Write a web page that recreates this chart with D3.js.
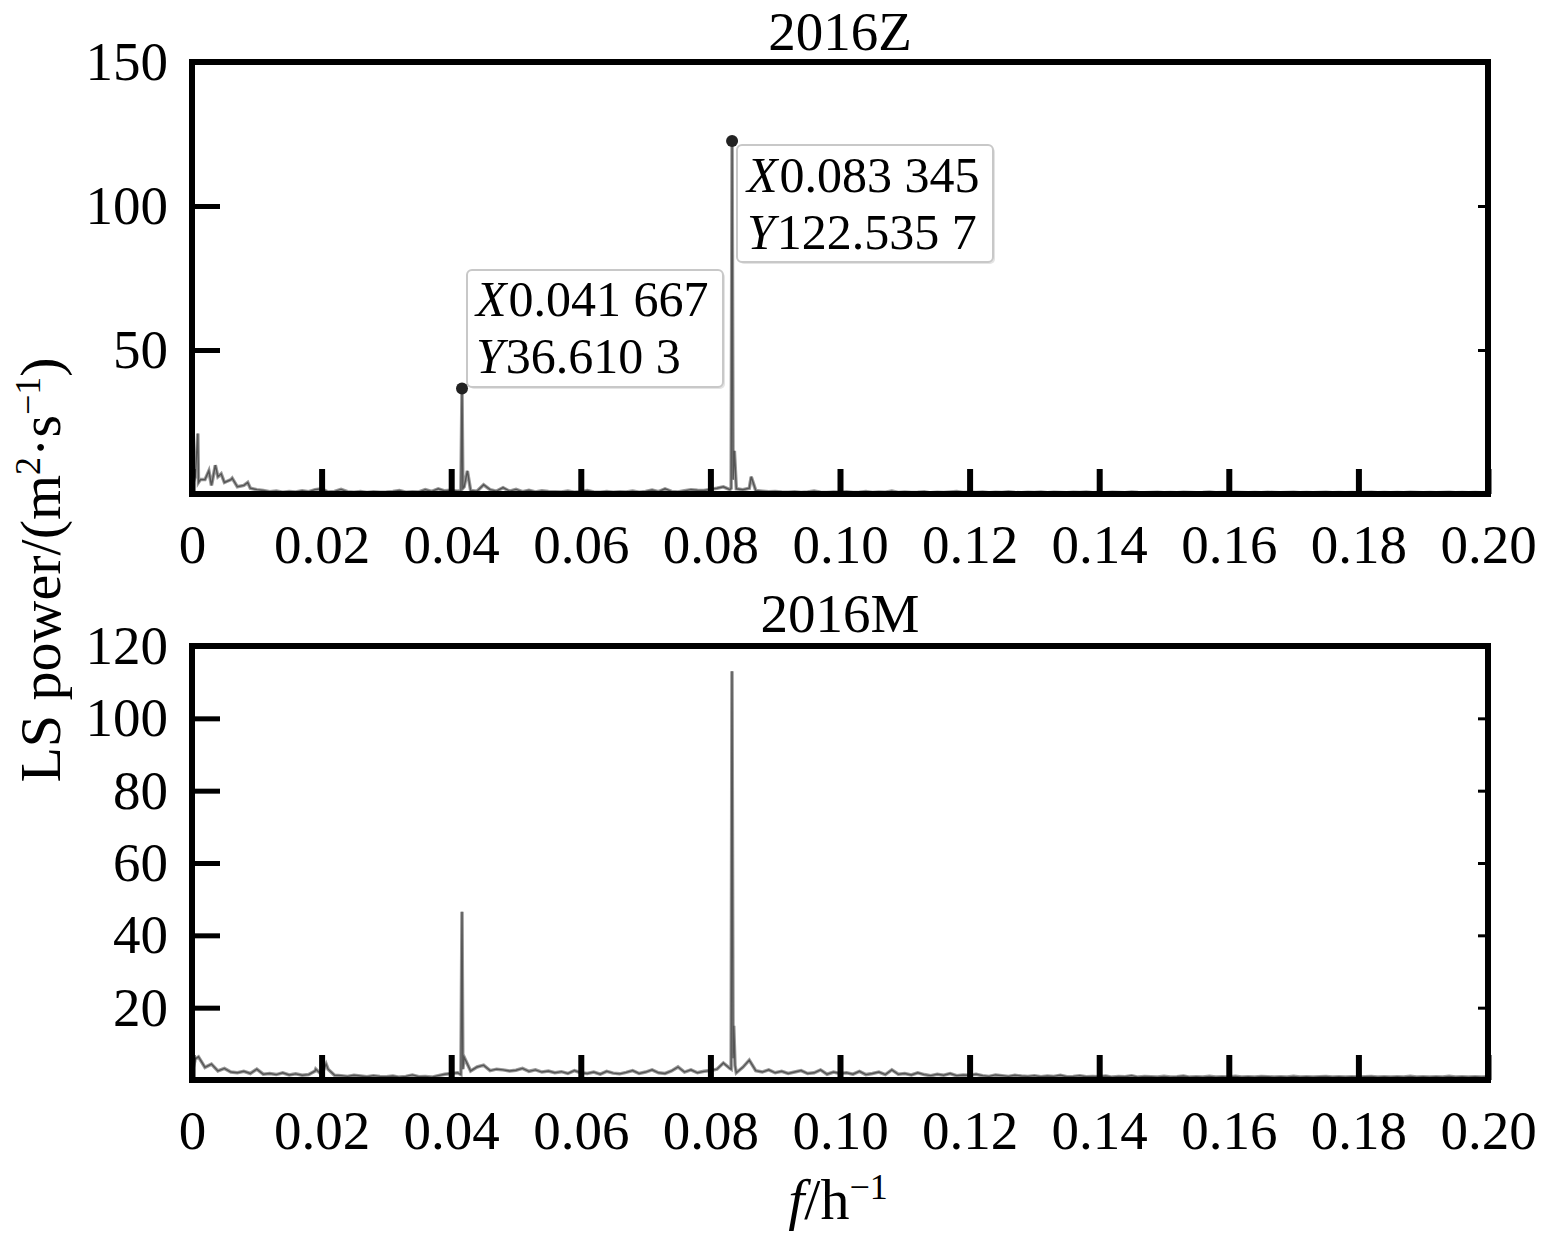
<!DOCTYPE html>
<html>
<head>
<meta charset="utf-8">
<script src="https://cdn.jsdelivr.net/npm/d3@7"></script>
<style>
  body { margin: 0; background: #fff; }
  svg { display: block; }
  text { font-family: "Liberation Serif", "Times New Roman", serif; fill: #000; }
</style>
</head>
<body>
<svg id="chart" width="1541" height="1238"></svg>
<script>
// ---------------- DATA ----------------
const xTicks = [0, 0.02, 0.04, 0.06, 0.08, 0.10, 0.12, 0.14, 0.16, 0.18, 0.20];
const xTickLabels = ["0", "0.02", "0.04", "0.06", "0.08", "0.10", "0.12", "0.14", "0.16", "0.18", "0.20"];
const yTicksZ = [50, 100, 150];
const yTicksM = [20, 40, 60, 80, 100, 120];
const titles = ["2016Z", "2016M"];

// power on a 0.001 h^-1 grid from 0 to 0.200 (2016Z)
const gridStep = 0.001;
const powerZ = [
  3, 4, 5, 3, 6, 4, 5, 2.5, 3, 2,
  1.5, 1.2, 0.8, 1.0, 0.6, 0.9, 0.7, 1.1, 0.8, 1.5,
  1.8, 0.7, 0.9, 1.6, 0.8, 0.6, 0.9, 0.5, 0.8, 0.6,
  0.7, 0.9, 1.2, 0.6, 0.8, 0.7, 1.5, 0.9, 1.8, 1.1,
  1.3, 1.0, 2.5, 1.2, 1.0, 3.2, 1.5, 1.0, 2.2, 1.0,
  1.6, 0.8, 1.3, 0.7, 1.1, 0.9, 0.8, 0.7, 1.0, 0.6,
  0.8, 1.2, 0.7, 0.6, 0.9, 0.6, 0.8, 0.7, 1.0, 0.6,
  0.9, 1.4, 0.8, 1.8, 0.9, 0.7, 1.1, 1.5, 1.3, 1.2,
  1.6, 2.0, 2.5, 1.5, 1.8, 1.5, 2.0, 1.2, 1.0, 0.8,
  0.9, 0.7, 0.6, 0.8, 0.5, 0.7, 1.0, 0.6, 0.5, 0.7,
  0.6, 0.8, 0.5, 0.6, 0.9, 0.5, 0.7, 0.6, 1.0, 0.5,
  0.7, 0.5, 0.6, 0.8, 0.4, 0.6, 0.5, 0.7, 0.9, 0.5,
  0.6, 0.5, 0.7, 0.4, 0.6, 0.5, 0.8, 0.5, 0.4, 0.6,
  0.5, 0.7, 0.4, 0.6, 0.5, 0.4, 0.6, 0.5, 0.7, 0.4,
  0.5, 0.4, 0.6, 0.5, 0.4, 0.7, 0.5, 0.4, 0.5, 0.6,
  0.4, 0.5, 0.4, 0.6, 0.5, 0.4, 0.5, 0.7, 0.4, 0.5,
  0.4, 0.6, 0.5, 0.4, 0.5, 0.4, 0.6, 0.5, 0.4, 0.5,
  0.6, 0.4, 0.5, 0.4, 0.5, 0.6, 0.4, 0.5, 0.4, 0.5,
  0.4, 0.5, 0.6, 0.4, 0.5, 0.4, 0.5, 0.4, 0.6, 0.5,
  0.4, 0.5, 0.4, 0.5, 0.6, 0.4, 0.5, 0.4, 0.5, 0.4,
  0.5
];
// off-grid points (frequency, power) for 2016Z
const extraFreqZ  = [0.0005, 0.0009, 0.0013, 0.0026, 0.0031, 0.0036, 0.0045, 0.0062, 0.0086, 0.0415, 0.041667, 0.0418, 0.0425, 0.0832, 0.083345, 0.0835, 0.0837, 0.0863];
const extraPowerZ = [6, 21, 5, 8, 4, 10, 7, 5.5, 4, 1.0, 36.6103, 2, 8, 2, 122.5357, 5, 15, 6];

// power on the same grid (2016M)
const powerM = [
  2, 6.4, 3.5, 4.4, 2.5, 3.2, 2.2, 2.0, 2.4, 1.8,
  3.0, 1.6, 1.8, 1.5, 2.0, 1.4, 1.7, 1.3, 1.5, 2.5,
  1.5, 3.0, 1.3, 1.2, 1.0, 1.3, 1.1, 0.9, 1.2, 1.0,
  0.9, 1.1, 0.8, 1.0, 1.4, 0.9, 1.0, 0.8, 1.2, 1.6,
  1.8, 2.0, 6.3, 2.5, 3.6, 4.1, 2.6, 3.0, 2.8, 2.5,
  2.7, 3.2, 2.4, 2.8, 2.2, 2.5, 2.0, 2.3, 1.8, 2.6,
  2.0, 1.8, 2.2, 1.6, 2.4, 1.9, 1.7, 2.1, 2.6, 1.8,
  2.2, 2.8, 2.0, 1.8, 2.5, 3.6, 2.2, 2.8, 2.0, 2.4,
  2.6, 3.0, 4.7, 3.2, 2.0, 3.5, 5.5, 2.6, 2.2, 2.8,
  2.0, 2.4, 1.8, 2.2, 2.6, 1.8, 2.0, 2.8, 1.6, 2.2,
  1.8, 2.0, 1.6, 2.4, 1.5, 1.8, 2.2, 1.5, 2.8, 1.6,
  1.8, 1.4, 2.0, 1.5, 1.2, 1.6, 1.3, 1.8, 1.2, 1.4,
  1.3, 1.6, 1.2, 1.0, 1.4, 1.2, 1.0, 1.3, 1.1, 1.0,
  1.2, 0.9, 1.1, 1.0, 1.3, 0.9, 1.0, 1.2, 0.9, 1.0,
  0.9, 1.1, 0.8, 1.0, 0.9, 1.2, 0.8, 1.0, 0.9, 0.8,
  1.0, 0.8, 0.9, 1.1, 0.8, 0.9, 0.8, 1.0, 0.8, 0.9,
  0.8, 1.0, 0.8, 0.9, 0.8, 1.0, 0.9, 0.8, 0.9, 0.8,
  1.0, 0.8, 0.9, 0.8, 0.9, 1.0, 0.8, 0.9, 0.8, 0.9,
  0.8, 0.9, 1.0, 0.8, 0.9, 0.8, 0.9, 0.8, 1.0, 0.8,
  0.9, 0.8, 0.9, 0.8, 1.0, 0.8, 0.9, 0.8, 0.9, 0.8,
  0.9
];
const extraFreqM  = [0.0005, 0.0191, 0.0207, 0.0415, 0.041667, 0.0418, 0.0832, 0.08333, 0.0835, 0.0836, 0.0838];
const extraPowerM = [5.8, 3.0, 4.4, 1.5, 46.5, 3.0, 3.0, 113.0, 6.0, 15.0, 4.0];

// data tips in the 2016Z panel
const tipFreq = [0.041667, 0.083345];
const tipPower = [36.6103, 122.5357];
const tipX = ["0.041 667", "0.083 345"];
const tipY = ["36.610 3", "122.535 7"];

// ---------------- DRAW ----------------
const svg = d3.select("#chart");
const FONT = 55;

function buildSeries(grid, ef, ep) {
  const pts = grid.map((v, i) => ({f: +(i * gridStep).toFixed(4), p: v}));
  ef.forEach((f, i) => pts.push({f: f, p: ep[i]}));
  pts.sort((a, b) => a.f - b.f);
  return pts;
}

const x = d3.scaleLinear().domain([0, 0.2]).range([192, 1488]);

const panels = [
  {title: titles[0], y: d3.scaleLinear().domain([0, 150]).range([494, 62]), ticks: yTicksZ,
   data: buildSeries(powerZ, extraFreqZ, extraPowerZ), titleY: 50},
  {title: titles[1], y: d3.scaleLinear().domain([0, 120]).range([1080, 646]), ticks: yTicksM,
   data: buildSeries(powerM, extraFreqM, extraPowerM), titleY: 632}
];

panels.forEach((pn, idx) => {
  const g = svg.append("g");
  const y = pn.y;
  const [y0, y1] = y.range();

  // series line
  const line = d3.line().x(d => x(d.f)).y(d => y(d.p));
  g.append("path").datum(pn.data)
    .attr("d", line)
    .attr("fill", "none")
    .attr("stroke", "#9a9a9a")
    .attr("stroke-width", 3.5)
    .attr("stroke-linejoin", "miter");
  g.append("path").datum(pn.data)
    .attr("d", line)
    .attr("fill", "none")
    .attr("stroke", "#555")
    .attr("stroke-width", 1.4)
    .attr("stroke-linejoin", "miter");

  // bottom axis (inward ticks)
  const xa = d3.axisBottom(x).tickValues(xTicks)
    .tickFormat((d, i) => xTickLabels[i]).tickSize(-25).tickPadding(30);
  const gx = g.append("g").attr("transform", `translate(0,${y0})`).call(xa);
  gx.select(".domain").remove();
  gx.selectAll(".tick line").attr("stroke", "#000").attr("stroke-width", 6);
  gx.selectAll(".tick text").attr("font-size", FONT).attr("font-family", "Liberation Serif");

  // left axis
  const ya = d3.axisLeft(y).tickValues(pn.ticks).tickSize(-28).tickPadding(24);
  const gy = g.append("g").attr("transform", `translate(192,0)`).call(ya);
  gy.select(".domain").remove();
  gy.selectAll(".tick line").attr("stroke", "#000").attr("stroke-width", 5);
  gy.selectAll(".tick text").attr("font-size", FONT).attr("font-family", "Liberation Serif");

  // right axis (short inward ticks, no labels)
  const ra = d3.axisRight(y).tickValues(pn.ticks).tickSize(-10).tickFormat("");
  const gr = g.append("g").attr("transform", `translate(1488,0)`).call(ra);
  gr.select(".domain").remove();
  gr.selectAll(".tick line").attr("stroke", "#000").attr("stroke-width", 3);

  // frame
  g.append("rect")
    .attr("x", 192).attr("y", y1)
    .attr("width", 1488 - 192).attr("height", y0 - y1)
    .attr("fill", "none").attr("stroke", "#000").attr("stroke-width", 6);

  // title
  g.append("text").attr("x", 840).attr("y", pn.titleY)
    .attr("text-anchor", "middle").attr("font-size", 55).text(pn.title);

  // data tips
  if (idx === 0) {
    const boxes = [
      {x: 467, y: 270, w: 256, h: 117, tx: 476, b1: 316, b2: 373},
      {x: 737, y: 145, w: 256, h: 117, tx: 747, b1: 192, b2: 249}
    ];
    tipFreq.forEach((f, i) => {
      const b = boxes[i];
      g.append("rect").attr("x", b.x + 2).attr("y", b.y + 2).attr("width", b.w).attr("height", b.h)
        .attr("rx", 5).attr("fill", "#e4e4e4");
      g.append("rect").attr("x", b.x).attr("y", b.y).attr("width", b.w).attr("height", b.h)
        .attr("rx", 5).attr("fill", "#fff").attr("stroke", "#c8c8c8").attr("stroke-width", 2);
      const t1 = g.append("text").attr("x", b.tx).attr("y", b.b1).attr("font-size", 50);
      t1.append("tspan").attr("font-style", "italic").text("X");
      t1.append("tspan").attr("dx", 2).text(tipX[i]);
      const t2 = g.append("text").attr("x", b.tx).attr("y", b.b2).attr("font-size", 50);
      t2.append("tspan").attr("font-style", "italic").text("Y");
      t2.append("tspan").attr("dx", 2).text(tipY[i]);
      g.append("circle").attr("cx", x(f)).attr("cy", y(tipPower[i])).attr("r", 6).attr("fill", "#222");
    });
  }
});

// y-axis label
const yl = svg.append("text")
  .attr("transform", "translate(60,570) rotate(-90)")
  .attr("text-anchor", "middle").attr("font-size", 58);
yl.append("tspan").text("LS power/(m");
yl.append("tspan").attr("baseline-shift", "super").attr("font-size", 36).text("2");
yl.append("tspan").text("·s");
yl.append("tspan").attr("baseline-shift", "super").attr("font-size", 36).text("−1");
yl.append("tspan").text(")");

// x-axis label
const xl = svg.append("text").attr("x", 838).attr("y", 1219)
  .attr("text-anchor", "middle").attr("font-size", 58);
xl.append("tspan").attr("font-style", "italic").text("f");
xl.append("tspan").text("/h");
xl.append("tspan").attr("baseline-shift", "super").attr("font-size", 36).text("−1");
</script>
</body>
</html>
